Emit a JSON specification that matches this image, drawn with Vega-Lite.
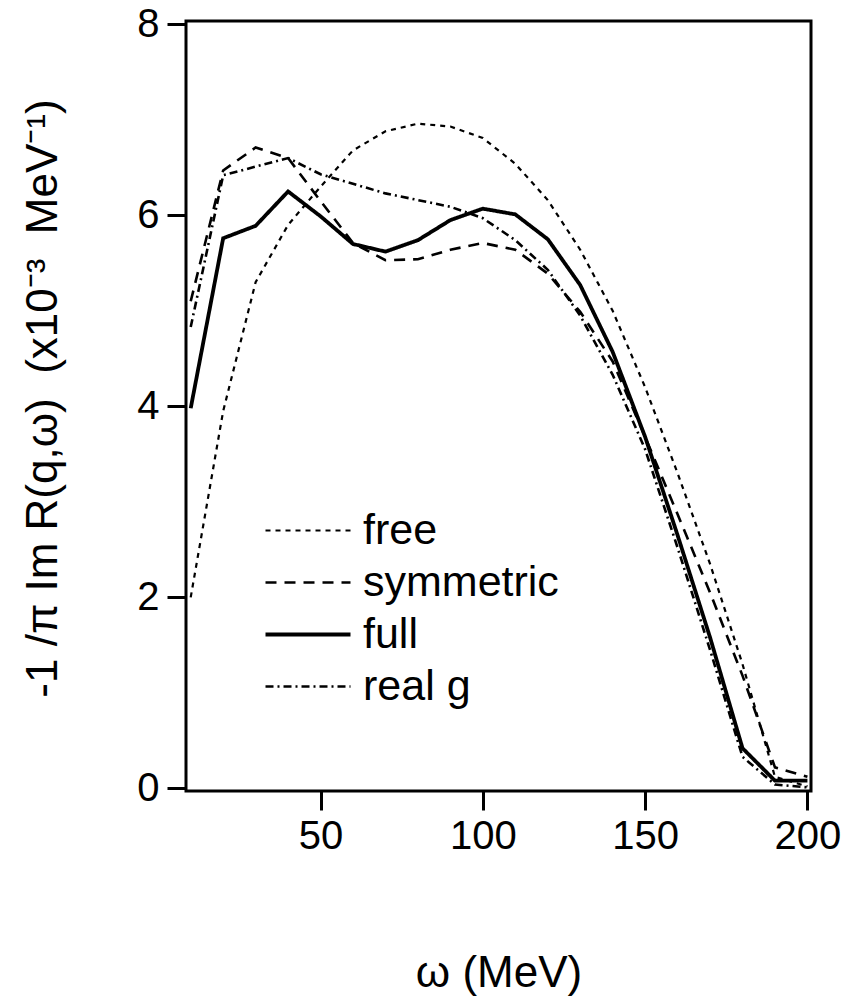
{
  "$schema": "https://vega.github.io/schema/vega-lite/v6.json",
  "width": 625,
  "height": 770,
  "autosize": {"type": "none"},
  "padding": {"left": 186, "top": 21, "right": 38, "bottom": 210},
  "background": "white",
  "config": {
    "font": "Liberation Sans",
    "view": {"stroke": "black", "strokeWidth": 3},
    "axis": {"labelColor": "black", "titleColor": "black", "tickColor": "black", "grid": false, "domain": false, "titleFontWeight": "normal"}
  },
  "data": {
    "values": [
      {"w": 10, "v": 2.0, "s": "free"}, {"w": 20, "v": 3.95, "s": "free"}, {"w": 30, "v": 5.3, "s": "free"}, {"w": 40, "v": 5.9, "s": "free"}, {"w": 50, "v": 6.3, "s": "free"}, {"w": 60, "v": 6.68, "s": "free"}, {"w": 70, "v": 6.88, "s": "free"}, {"w": 80, "v": 6.96, "s": "free"}, {"w": 90, "v": 6.93, "s": "free"}, {"w": 100, "v": 6.81, "s": "free"}, {"w": 110, "v": 6.54, "s": "free"}, {"w": 120, "v": 6.16, "s": "free"}, {"w": 130, "v": 5.64, "s": "free"}, {"w": 140, "v": 5.0, "s": "free"}, {"w": 150, "v": 4.2, "s": "free"}, {"w": 160, "v": 3.3, "s": "free"}, {"w": 170, "v": 2.35, "s": "free"}, {"w": 180, "v": 1.3, "s": "free"}, {"w": 190, "v": 0.12, "s": "free"}, {"w": 200, "v": 0.02, "s": "free"},
      {"w": 10, "v": 5.1, "s": "symmetric"}, {"w": 20, "v": 6.47, "s": "symmetric"}, {"w": 30, "v": 6.71, "s": "symmetric"}, {"w": 40, "v": 6.6, "s": "symmetric"}, {"w": 50, "v": 6.15, "s": "symmetric"}, {"w": 60, "v": 5.71, "s": "symmetric"}, {"w": 70, "v": 5.53, "s": "symmetric"}, {"w": 80, "v": 5.54, "s": "symmetric"}, {"w": 90, "v": 5.64, "s": "symmetric"}, {"w": 100, "v": 5.71, "s": "symmetric"}, {"w": 110, "v": 5.64, "s": "symmetric"}, {"w": 120, "v": 5.39, "s": "symmetric"}, {"w": 130, "v": 4.99, "s": "symmetric"}, {"w": 140, "v": 4.47, "s": "symmetric"}, {"w": 150, "v": 3.68, "s": "symmetric"}, {"w": 160, "v": 2.87, "s": "symmetric"}, {"w": 170, "v": 2.05, "s": "symmetric"}, {"w": 180, "v": 1.18, "s": "symmetric"}, {"w": 190, "v": 0.22, "s": "symmetric"}, {"w": 200, "v": 0.12, "s": "symmetric"},
      {"w": 10, "v": 3.98, "s": "full"}, {"w": 20, "v": 5.76, "s": "full"}, {"w": 30, "v": 5.89, "s": "full"}, {"w": 40, "v": 6.25, "s": "full"}, {"w": 50, "v": 5.99, "s": "full"}, {"w": 60, "v": 5.7, "s": "full"}, {"w": 70, "v": 5.62, "s": "full"}, {"w": 80, "v": 5.74, "s": "full"}, {"w": 90, "v": 5.95, "s": "full"}, {"w": 100, "v": 6.07, "s": "full"}, {"w": 110, "v": 6.01, "s": "full"}, {"w": 120, "v": 5.75, "s": "full"}, {"w": 130, "v": 5.27, "s": "full"}, {"w": 140, "v": 4.57, "s": "full"}, {"w": 150, "v": 3.68, "s": "full"}, {"w": 160, "v": 2.65, "s": "full"}, {"w": 170, "v": 1.58, "s": "full"}, {"w": 180, "v": 0.42, "s": "full"}, {"w": 190, "v": 0.08, "s": "full"}, {"w": 200, "v": 0.08, "s": "full"},
      {"w": 10, "v": 4.83, "s": "real g"}, {"w": 20, "v": 6.42, "s": "real g"}, {"w": 30, "v": 6.51, "s": "real g"}, {"w": 40, "v": 6.6, "s": "real g"}, {"w": 50, "v": 6.43, "s": "real g"}, {"w": 60, "v": 6.33, "s": "real g"}, {"w": 70, "v": 6.23, "s": "real g"}, {"w": 80, "v": 6.16, "s": "real g"}, {"w": 90, "v": 6.09, "s": "real g"}, {"w": 100, "v": 5.97, "s": "real g"}, {"w": 110, "v": 5.74, "s": "real g"}, {"w": 120, "v": 5.43, "s": "real g"}, {"w": 130, "v": 4.95, "s": "real g"}, {"w": 140, "v": 4.33, "s": "real g"}, {"w": 150, "v": 3.55, "s": "real g"}, {"w": 160, "v": 2.52, "s": "real g"}, {"w": 170, "v": 1.45, "s": "real g"}, {"w": 180, "v": 0.33, "s": "real g"}, {"w": 190, "v": 0.04, "s": "real g"}, {"w": 200, "v": 0.01, "s": "real g"}
    ]
  },
  "mark": {"type": "line", "color": "black", "strokeCap": "butt"},
  "encoding": {
    "x": {
      "field": "w", "type": "quantitative",
      "scale": {"domain": [8.55, 201.1], "nice": false, "zero": false},
      "axis": {
        "values": [50, 100, 150, 200], "tickSize": 19, "tickWidth": 3,
        "labelFontSize": 40, "labelPadding": 6,
        "title": "ω (MeV)", "titleFontSize": 44, "titleX": 312.5, "titleY": 195, "titleBaseline": "alphabetic", "titleAlign": "center"
      }
    },
    "y": {
      "field": "v", "type": "quantitative",
      "scale": {"domain": [-0.028, 8.035], "nice": false, "zero": false},
      "axis": {
        "values": [0, 2, 4, 6, 8], "tickSize": 19, "tickWidth": 3,
        "labelFontSize": 40, "labelPadding": 8,
        "title": "-1 /π Im R(q,ω)\u00a0 (x10⁻³\u00a0 MeV⁻¹)", "titleFontSize": 44, "titleAngle": 270, "titleX": -130, "titleY": 377, "titleBaseline": "alphabetic", "titleAlign": "center", "titleLimit": 1000
      }
    },
    "detail": {"field": "s"},
    "strokeDash": {
      "field": "s", "type": "nominal",
      "scale": {"domain": ["free", "symmetric", "full", "real g"], "range": [[5, 5], [11, 8], [1, 0], [8, 4, 2, 4]]},
      "legend": {
        "orient": "none", "legendX": 100.5, "legendY": 488, "title": null,
        "symbolType": "M-5,0H5", "symbolSize": 289, "symbolStrokeColor": "black",
        "labelFontSize": 43, "labelOffset": 33.5, "rowPadding": 8, "padding": 0, "labelColor": "black", "labelLimit": 1000,
        "labelExpr": "datum.label == 'symmetric' ? '\u2009symmetric' : datum.label"
      }
    },
    "strokeWidth": {
      "field": "s", "type": "nominal",
      "scale": {"type": "ordinal", "domain": ["free", "symmetric", "full", "real g"], "range": [2.2, 2.6, 3.8, 2.6]}
    }
  }
}
